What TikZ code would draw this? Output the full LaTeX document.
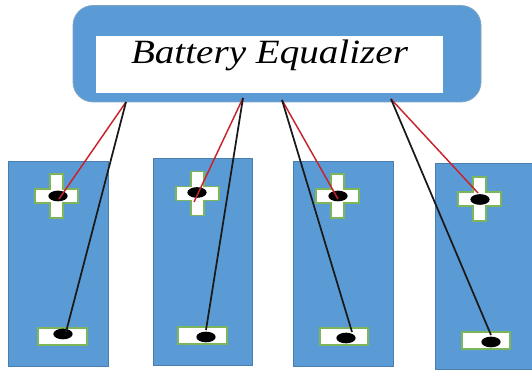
\documentclass[tikz,border=0pt]{standalone}
\usepackage{graphicx}
\usepackage{fontspec}
\setmainfont{Liberation Serif}
\usetikzlibrary{shapes.geometric}
\definecolor{fillblue}{HTML}{5B9BD5}
\definecolor{edgeblue}{HTML}{4A7EAE}
\definecolor{termgreen}{HTML}{7DB65A}
\definecolor{wirered}{HTML}{C8232C}
\tikzset{
  battery/.style={draw=edgeblue,fill=fillblue,line width=0.75pt},
  terminal/.style={draw=termgreen,fill=white,line width=1pt},
  post/.style={ellipse,fill=black,draw=none,minimum width=14.5pt,minimum height=8pt,inner sep=0pt},
  redwire/.style={draw=wirered,line width=1.1pt},
  blackwire/.style={draw=black!90,line width=1.3pt},
}
\newcommand{\plusterm}[2]{%
  \draw[terminal,shift={(#1,#2)}] (-6.5,-22)--(6.5,-22)--(6.5,-7)--(21.5,-7)--(21.5,7)--(6.5,7)--(6.5,22)--(-6.5,22)--(-6.5,7)--(-21.5,7)--(-21.5,-7)--(-6.5,-7)--cycle;}
\begin{document}
\begin{tikzpicture}[x=0.75pt,y=-0.75pt]
\useasboundingbox (0,0) rectangle (532,370);
\clip (0,0) rectangle (532,370);
\draw[draw=edgeblue!70!white,fill=fillblue,line width=0.6pt,rounded corners=15pt] (73,5.5) rectangle (481,102);
\node[fill=white,minimum width=260.25pt,minimum height=42.75pt,inner sep=0pt,anchor=north west] (inner) at (96,36) {};
\node[font=\itshape\fontsize{25.5pt}{28pt}\selectfont,inner sep=0pt,anchor=base] (title) at (269.5,63.5) {\scalebox{1.15}[1]{Battery Equalizer}};
% batteries
\draw[battery] (8.5,161.5) rectangle (108,366.5);
\draw[battery] (153,158.5) rectangle (252.5,365);
\draw[battery] (293,161.5) rectangle (393,366.5);
\draw[battery] (435,163.5) rectangle (540,369);
% plus terminals
\plusterm{56.5}{196}
\plusterm{197.5}{193.5}
\plusterm{337.5}{196}
\plusterm{479.5}{199}
% minus terminals
\draw[terminal] (38,328) rectangle (87,345);
\draw[terminal] (178,327) rectangle (227,344);
\draw[terminal] (320,328) rectangle (368,345);
\draw[terminal] (462,332) rectangle (510,349);
% posts
\node[post] (p1) at (58,196) {};
\node[post] (p2) at (197,192.5) {};
\node[post] (p3) at (338,196) {};
\node[post] (p4) at (480,199.5) {};
\node[post] (m1) at (63,334) {};
\node[post] (m2) at (206,337) {};
\node[post] (m3) at (346,338) {};
\node[post] (m4) at (491,342) {};
% wire ends
\coordinate (s1) at (126,102);
\coordinate (s2) at (243,98);
\coordinate (s3) at (282,100);
\coordinate (s4) at (391,99);
\coordinate (r1) at (59,199);
\coordinate (r2) at (194,202);
\coordinate (r3) at (338,199);
\coordinate (r4) at (478,193);
\coordinate (k1) at (66,332);
\coordinate (k2) at (206,330);
\coordinate (k3) at (352,332);
\coordinate (k4) at (491,335);
\foreach \i in {1,2,3,4}{
  \draw[redwire] (s\i) -- (r\i);
  \draw[blackwire] (s\i) -- (k\i);
}
\end{tikzpicture}
\end{document}
